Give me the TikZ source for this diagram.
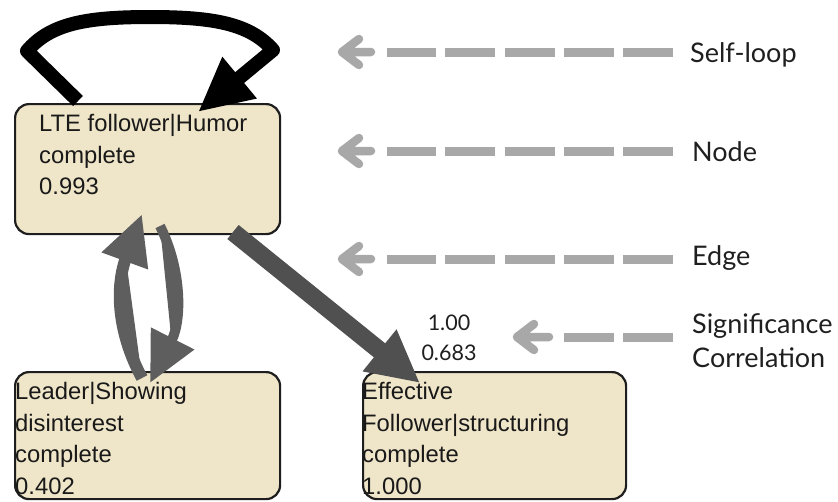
\documentclass[tikz,border=0pt]{standalone}
\usepackage{fontspec}
\setmainfont{Liberation Sans}
\newfontfamily\legendfont{Lato}
\usetikzlibrary{arrows.meta,calc}

\definecolor{nodefill}{HTML}{EFE5C8}
\definecolor{nodeborder}{HTML}{1E1E1E}
\definecolor{edgedark}{HTML}{505050}
\definecolor{edgemid}{HTML}{5E5E5E}
\definecolor{hintgray}{HTML}{A8A8A8}

\tikzset{
  statebox/.style={draw=nodeborder, line width=2.2pt, fill=nodefill,
    rounded corners=14pt, anchor=north west, inner sep=0pt,
    minimum width=265pt},
  statetext/.style={align=left, anchor=north west, inner sep=0pt,
    font=\fontsize{23.8pt}{31.6pt}\selectfont, text=black!90},
  loopedge/.style={draw=black, line width=14pt,
    line join=round, -{Triangle[length=54pt,width=50pt]}},
  flowedge/.style={line width=#1, -{Triangle[length=50pt,width=46pt]}},
  legendlabel/.style={anchor=base west, inner sep=0pt, text=black!88,
    font=\legendfont\fontsize{27pt}{34pt}\selectfont},
  edgelabel/.style={align=center, inner sep=0pt,
    font=\legendfont\fontsize{21.5pt}{30pt}\selectfont, text=black!88},
  hintdash/.style={draw=hintgray, line width=9pt,
    dash pattern=on 50pt off 9.2pt},
  hintpointer/.style={draw=hintgray, line width=8.5pt,
    line cap=round, line join=round}
}

\begin{document}
\begin{tikzpicture}[x=1pt, y=-1pt]
  \useasboundingbox (0,0) rectangle (838,501);

  % state boxes
  \node[statebox, minimum height=130pt] (lte) at (14,103) {};
  \node[statebox, minimum height=127pt] (lead) at (14,371) {};
  \node[statebox, minimum height=127pt, minimum width=263pt] (eff) at (362,371) {};

  % state texts
  \node[statetext] (ltetext) at (39,114)
    {LTE follower|Humor\\complete\\0.993};
  \node[statetext] (leadtext) at (15,382)
    {Leader|Showing\\disinterest\\complete\\0.402};
  \node[statetext] (efftext) at (362,382)
    {Effective\\Follower|structuring\\complete\\1.000};

  % anchor points of the edges on the boxes
  \coordinate (loopout) at ($(lte.north west)+(64,-2)$);
  \coordinate (loopin)  at ($(lte.north west)+(184,9)$);
  \coordinate (ltedown) at (160,226);
  \coordinate (leadup)  at (142,378);
  \coordinate (ltein)   at (142,214);
  \coordinate (leadin)  at (150,383);
  \coordinate (lteout)  at (233,232);
  \coordinate (effin)   at (420,383);

  % self-loop
  \draw[loopedge] (loopout) -- (27,51)
    .. controls (50,24) and (85,17) .. (150,17)
    .. controls (215,17) and (250,24) .. (273,50) -- (loopin);

  % edges between the two left states
  \draw[flowedge=12pt, draw=edgemid, fill=edgemid]
    (leadup) .. controls (116,330) and (116,285) .. (ltein);
  \draw[flowedge=10pt, draw=edgemid, fill=edgemid]
    (ltedown) .. controls (182,270) and (182,320) .. (leadin);

  % edge to the effective follower state
  \draw[flowedge=18pt, draw=edgedark, fill=edgedark,
        -{Triangle[length=52pt,width=50pt]}] (lteout) -- (effin);

  % edge annotation
  \node[edgelabel] (sig) at (449,338) {1.00\\0.683};

  % legend
  \node[legendlabel] (lblloop) at (690,62) {Self-loop};
  \node[legendlabel] (lblnode) at (692,161) {Node};
  \node[legendlabel] (lbledge) at (692,265) {Edge};
  \node[legendlabel, align=left, anchor=north west] (lblsig) at (692,313)
    {Significance\\Correlation};

  \coordinate (ptrloop) at (342,52);
  \coordinate (ptrnode) at (342,151);
  \coordinate (ptredge) at (342,259);
  \coordinate (ptrsig)  at (517,337);

  \foreach \p/\l in {ptrloop/lblloop, ptrnode/lblnode, ptredge/lbledge} {
    \draw[hintdash] (\p -| 673,0) -- ($(\p)+(45,0)$);
    \draw[hintpointer] ($(\p)+(17,-13)$) -- (\p) -- ($(\p)+(17,13)$)
      (\p) -- ($(\p)+(29,0)$);
  }
  \draw[hintdash] (ptrsig -| 673,0) -- ($(ptrsig)+(47,0)$);
  \draw[hintpointer] ($(ptrsig)+(17,-13)$) -- (ptrsig) -- ($(ptrsig)+(17,13)$)
    (ptrsig) -- ($(ptrsig)+(32,0)$);
\end{tikzpicture}
\end{document}
